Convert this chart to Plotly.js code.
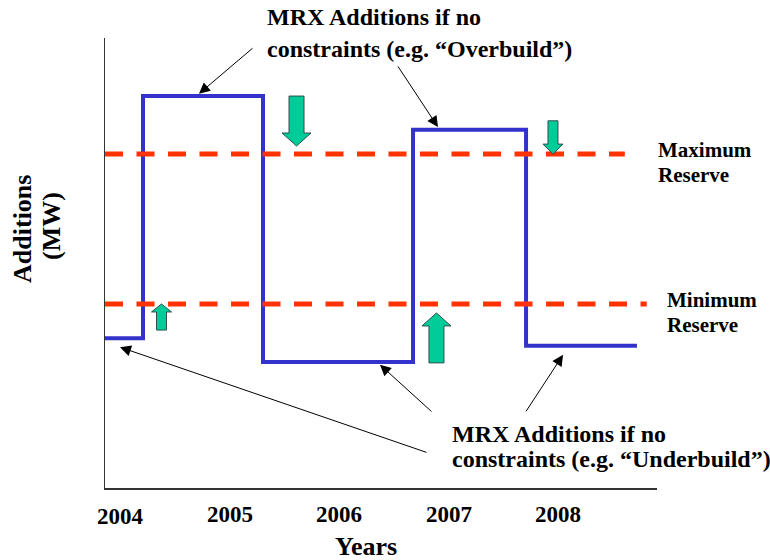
<!DOCTYPE html>
<html>
<head>
<meta charset="utf-8">
<script src="https://cdn.plot.ly/plotly-3.0.1.min.js"></script>
<style>
  html, body { margin: 0; padding: 0; background: #fff; }
  #chart { width: 770px; height: 560px; }
</style>
</head>
<body>
<div id="chart"></div>
<script>
// Year labels along the bottom axis
const yearLabels = ['2004', '2005', '2006', '2007', '2008'];
const yearValues = [2004, 2005, 2006, 2007, 2008];

// MRX additions without constraints (step profile, MW index)
const mrxYears = [2003.863, 2004.21, 2005.306, 2006.676, 2007.708, 2008.721];
const mrxAdditions = [33.3, 87.1, 28.0, 79.6, 31.6, 31.6];

// Reserve bands
const reserveNames = ['Maximum Reserve', 'Minimum Reserve'];
const reserveLevels = [74.2, 40.9];
const reserveStart = [2003.863, 2003.863];
const reserveEnd = [2008.61, 2008.81];

// Correction arrows: where each one starts and where it points
const arrowYears = [2004.379, 2005.612, 2006.890, 2007.954];
const arrowFrom = [35.1, 87.1, 27.8, 81.6];
const arrowTo = [40.9, 76.0, 38.9, 74.2];

// arrow geometry (pixels): shaft width, head width, head length
const arrowShapes = [
  { shaft: 10, head: 20, len: 8 },
  { shaft: 15, head: 29, len: 13 },
  { shaft: 15, head: 29, len: 13 },
  { shaft: 10, head: 20, len: 10 }
];

const xRange = [2003.863, 2008.904];
const yRange = [0, 100];
const margin = { l: 105, r: 113, t: 38, b: 72 };
const plotW = 770 - margin.l - margin.r;
const plotH = 560 - margin.t - margin.b;
const pxPerYear = plotW / (xRange[1] - xRange[0]);
const pxPerUnit = plotH / (yRange[1] - yRange[0]);

const serif = 'Liberation Serif, Times New Roman, serif';
const traces = [];

// blue step line
traces.push({
  type: 'scatter', mode: 'lines',
  x: mrxYears, y: mrxAdditions,
  line: { shape: 'hv', color: '#3333CC', width: 4 },
  hoverinfo: 'skip', showlegend: false
});

// red dashed reserve levels
reserveLevels.forEach((lvl, i) => {
  traces.push({
    type: 'scatter', mode: 'lines', name: reserveNames[i],
    x: [reserveStart[i], reserveEnd[i]], y: [lvl, lvl],
    line: { color: '#FF3300', width: 5, dash: '18px,13.5px' },
    hoverinfo: 'skip', showlegend: false
  });
});

// green block arrows
arrowYears.forEach((xc, i) => {
  const s = arrowShapes[i];
  const yb = arrowFrom[i], yt = arrowTo[i];
  const dir = Math.sign(yt - yb);
  const hb = yt - dir * s.len / pxPerUnit;
  const sw = s.shaft / 2 / pxPerYear;
  const hw = s.head / 2 / pxPerYear;
  traces.push({
    type: 'scatter', mode: 'lines',
    x: [xc - sw, xc - sw, xc - hw, xc, xc + hw, xc + sw, xc + sw, xc - sw],
    y: [yb, hb, hb, yt, hb, hb, yb, yb],
    fill: 'toself', fillcolor: '#00CC99',
    line: { color: '#2F4F4F', width: 1 },
    hoverinfo: 'skip', showlegend: false
  });
});

const annotations = [];

function label(text, x, y, size, extra) {
  annotations.push(Object.assign({
    xref: 'paper', yref: 'paper', x: x, y: y,
    text: '<b>' + text + '</b>', showarrow: false,
    xanchor: 'left', yanchor: 'middle',
    font: { family: serif, size: size, color: '#000' }
  }, extra || {}));
}

// callout texts
label('MRX Additions if no', 0.2899, 1.0476, 24);
label('constraints (e.g. \u201COverbuild\u201D)', 0.2899, 0.9764, 24);
label('MRX Additions if no', 0.6250, 0.1209, 24);
label('constraints (e.g. \u201CUnderbuild\u201D)', 0.6250, 0.0653, 24);

// reserve labels
label('Maximum', 0.9982, 0.7511, 21);
label('Reserve', 0.9982, 0.6956, 21);
label('Minimum', 1.0145, 0.4178, 21);
label('Reserve', 1.0145, 0.3622, 21);

// axis titles
label('Years', 0.4728, -0.1311, 26, { xanchor: 'center' });
label('Additions', -0.1486, 0.5756, 26, { xanchor: 'center', textangle: -90 });
label('(MW)', -0.0978, 0.5822, 26, { xanchor: 'center', textangle: -90 });

// year tick labels
yearLabels.forEach((t, i) => {
  annotations.push({
    xref: 'x', yref: 'paper', x: yearValues[i], y: i === 0 ? -0.0644 : -0.0578,
    text: '<b>' + t + '</b>', showarrow: false,
    xanchor: 'center', yanchor: 'middle',
    font: { family: serif, size: 23, color: '#000' }
  });
});

// pointer arrows from the callouts to the step line
const pointers = [
  { x: 2004.721, y: 87.6, ax: 2005.224, ay: 98.0 },
  { x: 2006.904, y: 80.2, ax: 2006.530, ay: 94.0 },
  { x: 2006.374, y: 27.4, ax: 2006.858, ay: 16.7 },
  { x: 2008.046, y: 29.6, ax: 2007.699, ay: 16.7 },
  { x: 2004.0, y: 31.3, ax: 2006.813, ay: 7.8 }
];
pointers.forEach(p => {
  annotations.push({
    xref: 'x', yref: 'y', axref: 'x', ayref: 'y',
    x: p.x, y: p.y, ax: p.ax, ay: p.ay,
    text: '', showarrow: true,
    arrowhead: 2, arrowsize: 2.2, arrowwidth: 1, arrowcolor: '#000',
    standoff: 0
  });
});

const layout = {
  width: 770, height: 560,
  margin: margin,
  paper_bgcolor: '#fff', plot_bgcolor: '#fff',
  showlegend: false,
  xaxis: {
    range: xRange, showline: true, linecolor: '#333', linewidth: 1.5,
    showgrid: false, zeroline: false, showticklabels: false, ticks: ''
  },
  yaxis: {
    range: yRange, showline: true, linecolor: '#333', linewidth: 1.5,
    showgrid: false, zeroline: false, showticklabels: false, ticks: ''
  },
  annotations: annotations
};

Plotly.newPlot('chart', traces, layout, { displayModeBar: false, staticPlot: true });
</script>
</body>
</html>
